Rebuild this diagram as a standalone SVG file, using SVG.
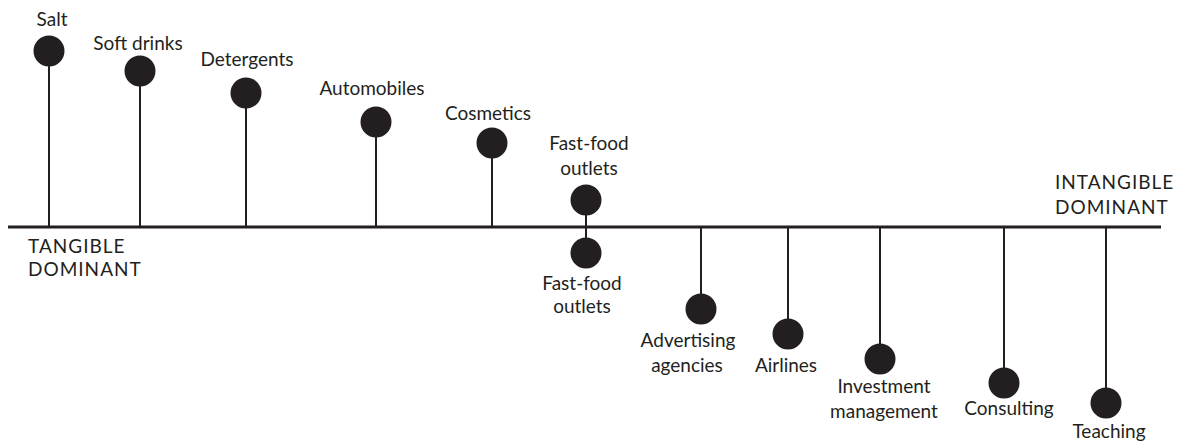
<svg xmlns="http://www.w3.org/2000/svg" width="1185" height="441" viewBox="0 0 1185 441">
<style>
.lbl{font-family:"Lato","Open Sans",sans-serif;font-size:19px;fill:#231f20;text-anchor:middle}
.end{font-family:"Lato","Open Sans",sans-serif;font-size:19px;fill:#231f20;letter-spacing:1px}
.dot{fill:#231f20}
.stem{stroke:#231f20;stroke-width:2}
.axis{stroke:#231f20;stroke-width:3}
</style>
<rect width="1185" height="441" fill="#fff"/>
<g id="connectors">
<line class="axis" x1="8" y1="227" x2="1161" y2="227"/>
<line class="stem" x1="49" y1="51" x2="49" y2="227"/>
<line class="stem" x1="140" y1="71" x2="140" y2="227"/>
<line class="stem" x1="246" y1="93" x2="246" y2="227"/>
<line class="stem" x1="376" y1="122" x2="376" y2="227"/>
<line class="stem" x1="492" y1="143" x2="492" y2="227"/>
<line class="stem" x1="586" y1="200" x2="586" y2="253"/>
<line class="stem" x1="701" y1="227" x2="701" y2="309"/>
<line class="stem" x1="788" y1="227" x2="788" y2="334"/>
<line class="stem" x1="880" y1="227" x2="880" y2="359"/>
<line class="stem" x1="1004" y1="227" x2="1004" y2="383"/>
<line class="stem" x1="1106" y1="227" x2="1106" y2="403"/>
</g>
<g id="tangible"><text class="end" x="28" y="253">TANGIBLE</text><text class="end" x="28" y="276">DOMINANT</text></g>
<g id="intangible"><text class="end" x="1055" y="189">INTANGIBLE</text><text class="end" x="1055" y="214">DOMINANT</text></g>
<g id="salt"><circle class="dot" cx="49" cy="51" r="15.5"/><text class="lbl" x="52" y="26">Salt</text></g>
<g id="soft-drinks"><circle class="dot" cx="140" cy="71" r="15.5"/><text class="lbl" x="138" y="50">Soft drinks</text></g>
<g id="detergents"><circle class="dot" cx="246" cy="93" r="15.5"/><text class="lbl" x="247" y="66">Detergents</text></g>
<g id="automobiles"><circle class="dot" cx="376" cy="122" r="15.5"/><text class="lbl" x="372" y="95">Automobiles</text></g>
<g id="cosmetics"><circle class="dot" cx="492" cy="143" r="15.5"/><text class="lbl" x="488" y="120">Cosmetics</text></g>
<g id="fastfood-top"><circle class="dot" cx="586" cy="200" r="15.5"/><text class="lbl" x="589" y="150">Fast-food</text><text class="lbl" x="589" y="175">outlets</text></g>
<g id="fastfood-bottom"><circle class="dot" cx="586" cy="253" r="15.5"/><text class="lbl" x="582" y="290">Fast-food</text><text class="lbl" x="582" y="313">outlets</text></g>
<g id="advertising"><circle class="dot" cx="701" cy="309" r="15.5"/><text class="lbl" x="688" y="347">Advertising</text><text class="lbl" x="687" y="372">agencies</text></g>
<g id="airlines"><circle class="dot" cx="788" cy="334" r="15.5"/><text class="lbl" x="786" y="372">Airlines</text></g>
<g id="investment"><circle class="dot" cx="880" cy="359" r="15.5"/><text class="lbl" x="884" y="393">Investment</text><text class="lbl" x="884" y="418">management</text></g>
<g id="consulting"><circle class="dot" cx="1004" cy="383" r="15.5"/><text class="lbl" x="1009" y="415">Consulting</text></g>
<g id="teaching"><circle class="dot" cx="1106" cy="403" r="15.5"/><text class="lbl" x="1109" y="438">Teaching</text></g>
</svg>
